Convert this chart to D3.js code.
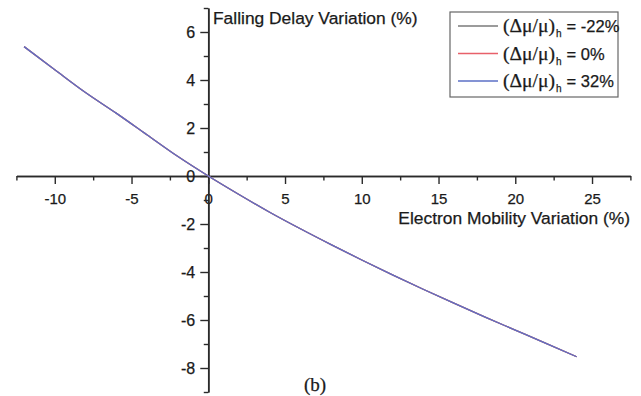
<!DOCTYPE html>
<html>
<head>
<meta charset="utf-8">
<script src="https://cdn.jsdelivr.net/npm/d3@7"></script>
<style>
  html, body { margin: 0; padding: 0; background: #fff; }
  svg { display: block; }
  text { font-family: Arial, "Liberation Sans", Helvetica, sans-serif; fill: #1a1a1a; stroke: #1a1a1a; stroke-width: 0.25px; }
</style>
</head>
<body>
<svg id="chart" width="641" height="396"></svg>
<script>
// ---- data ----
const mobilityVariation = [-12, -10, -8, -6, -4, -2, 0, 2, 4, 6, 8, 10, 12, 14, 16, 18, 20, 22, 24];
const delayMinus22 = [5.39, 4.43, 3.48, 2.62, 1.72, 0.82, 0, -0.77, -1.51, -2.20, -2.86, -3.50, -4.12, -4.72, -5.30, -5.87, -6.42, -6.97, -7.53];
const delayZero    = [5.39, 4.43, 3.48, 2.62, 1.72, 0.82, 0, -0.77, -1.51, -2.20, -2.86, -3.50, -4.12, -4.72, -5.30, -5.87, -6.42, -6.97, -7.53];
const delayPlus32  = [5.39, 4.43, 3.48, 2.62, 1.72, 0.82, 0, -0.77, -1.51, -2.20, -2.86, -3.50, -4.12, -4.72, -5.30, -5.87, -6.42, -6.97, -7.53];
const seriesLabels = ["-22%", "0%", "32%"];
const seriesColors = ["#7a7a7a", "#e8606a", "#5b6fc6"];
const xMajorTicks = [-10, -5, 0, 5, 10, 15, 20, 25];
const xMinorTicks = [-12.5, -7.5, -2.5, 2.5, 7.5, 12.5, 17.5, 22.5, 27.5];
const yMajorTicks = [-8, -6, -4, -2, 0, 2, 4, 6];
const yMinorTicks = [-9, -7, -5, -3, -1, 1, 3, 5, 7];
const xTitle = "Electron Mobility Variation (%)";
const yTitle = "Falling Delay Variation (%)";
const panelLabel = "(b)";

const series = [delayMinus22, delayZero, delayPlus32];

const svg = d3.select("#chart");
const x = d3.scaleLinear().domain([-12.5, 27.5]).range([16.4, 630.4]);
const y = d3.scaleLinear().domain([-9, 7]).range([392, 8]);

const axisColor = "#2a2a2a";
const fmt = d => String(d);

// x axis (through y = 0)
const gx = svg.append("g").attr("transform", `translate(0,${y(0)})`);
gx.append("g").call(d3.axisBottom(x).tickValues(xMinorTicks).tickSize(4.5).tickSizeOuter(0).tickFormat(""));
gx.append("g").call(d3.axisBottom(x).tickValues(xMajorTicks).tickSize(8).tickSizeOuter(0).tickPadding(9).tickFormat(fmt));

// y axis (through x = 0)
const gy = svg.append("g").attr("transform", `translate(${x(0)},0)`);
gy.append("g").call(d3.axisLeft(y).tickValues(yMinorTicks).tickSize(4.5).tickSizeOuter(0).tickFormat(""));
gy.append("g").call(d3.axisLeft(y).tickValues(yMajorTicks).tickSize(8).tickSizeOuter(0).tickPadding(5).tickFormat(fmt));

svg.selectAll(".domain").attr("stroke", axisColor).attr("stroke-width", 1.6);
svg.selectAll(".tick line").attr("stroke", axisColor).attr("stroke-width", 1.4);
gx.selectAll(".tick text").attr("font-size", 15).attr("fill", "#1a1a1a").attr("font-family", "Arial, 'Liberation Sans', sans-serif");
gy.selectAll(".tick text").attr("font-size", 16).attr("fill", "#1a1a1a").attr("font-family", "Arial, 'Liberation Sans', sans-serif");

// curves
const line = d3.line().x((d, i) => x(mobilityVariation[i])).y(d => y(d)).curve(d3.curveMonotoneX);
series.forEach((s, k) => {
  svg.append("path").datum(s)
    .attr("fill", "none")
    .attr("stroke", seriesColors[k])
    .attr("stroke-width", 1.3)
    .attr("d", line);
});

// titles
svg.append("text").attr("x", 213).attr("y", 24).attr("font-size", 17.4).text(yTitle);
svg.append("text").attr("x", 630).attr("y", 224).attr("text-anchor", "end").attr("font-size", 17.4).text(xTitle);
svg.append("text").attr("x", 315).attr("y", 391).attr("text-anchor", "middle")
  .attr("font-size", 19).style("font-family", "'Liberation Serif', 'Times New Roman', serif").text(panelLabel);

// legend
const lg = svg.append("g");
lg.append("rect").attr("x", 450).attr("y", 12).attr("width", 168).attr("height", 85)
  .attr("fill", "#fff").attr("stroke", "#666").attr("stroke-width", 1.2);
seriesLabels.forEach((lab, k) => {
  const cy = 26 + k * 27.5;
  lg.append("line").attr("x1", 458).attr("x2", 498).attr("y1", cy).attr("y2", cy)
    .attr("stroke", seriesColors[k]).attr("stroke-width", 1.3);
  const t = lg.append("text").attr("x", 503).attr("y", cy + 6).attr("font-size", 16.5);
  t.append("tspan").style("font-family", "'Liberation Serif', 'Times New Roman', serif")
    .attr("font-size", 18).attr("textLength", 52).attr("lengthAdjust", "spacingAndGlyphs").text("(Δμ/μ)");
  t.append("tspan").attr("x", 556).attr("dy", 5).attr("font-size", 10).text("h");
  t.append("tspan").attr("x", 562).attr("dy", -5).attr("font-size", 16.5).text(" = " + lab);
});
</script>
</body>
</html>
